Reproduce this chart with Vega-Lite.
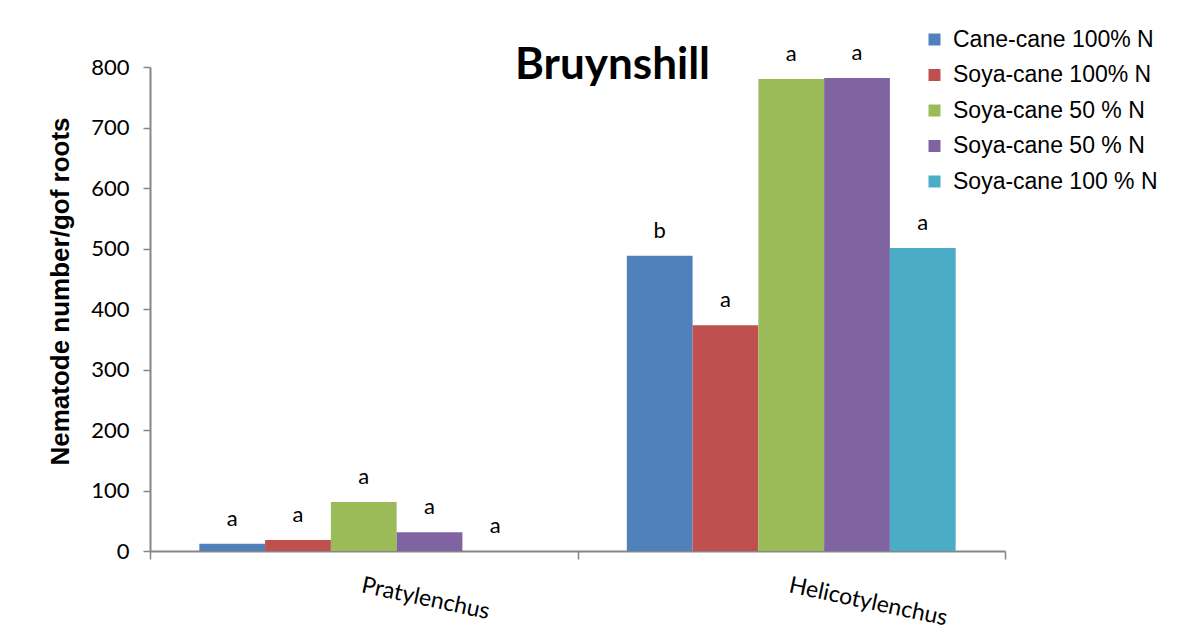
{
  "$schema": "https://vega.github.io/schema/vega-lite/v6.json",
  "width": 855,
  "height": 484,
  "autosize": {"type": "none"},
  "padding": {"left": 150, "top": 67, "right": 195, "bottom": 86},
  "background": "#ffffff",
  "title": {
    "text": "Bruynshill",
    "font": "Lato",
    "fontSize": 44,
    "fontWeight": "bold",
    "color": "#000000",
    "anchor": "middle",
    "dx": 35,
    "dy": 64
  },
  "config": {
    "view": {"stroke": null},
    "axis": {"grid": false}
  },
  "data": {
    "values": [
      {"nematode": "Pratylenchus", "treatment": "Cane-cane 100% N", "value": 12, "letter": "a"},
      {"nematode": "Pratylenchus", "treatment": "Soya-cane 100% N", "value": 18, "letter": "a"},
      {"nematode": "Pratylenchus", "treatment": "Soya-cane 50 % N", "value": 81, "letter": "a"},
      {"nematode": "Pratylenchus", "treatment": "Soya-cane  50 % N", "value": 31, "letter": "a"},
      {"nematode": "Pratylenchus", "treatment": "Soya-cane 100 % N", "value": 0, "letter": "a"},
      {"nematode": "Helicotylenchus", "treatment": "Cane-cane 100% N", "value": 488, "letter": "b"},
      {"nematode": "Helicotylenchus", "treatment": "Soya-cane 100% N", "value": 373, "letter": "a"},
      {"nematode": "Helicotylenchus", "treatment": "Soya-cane 50 % N", "value": 780, "letter": "a"},
      {"nematode": "Helicotylenchus", "treatment": "Soya-cane  50 % N", "value": 782, "letter": "a"},
      {"nematode": "Helicotylenchus", "treatment": "Soya-cane 100 % N", "value": 501, "letter": "a"}
    ]
  },
  "encoding": {
    "x": {
      "field": "nematode",
      "type": "nominal",
      "sort": ["Pratylenchus", "Helicotylenchus"],
      "scale": {"paddingInner": 0, "paddingOuter": 0},
      "axis": {
        "title": null,
        "tickBand": "extent",
        "labelAngle": 12,
        "labelAlign": "left",
        "labelBaseline": "top",
        "labelFont": "Lato",
        "labelFontSize": 23,
        "labelColor": "#000000",
        "labelPadding": 15,
        "tickSize": 8,
        "tickColor": "#868686",
        "tickWidth": 1.5,
        "domainColor": "#868686",
        "domainWidth": 2
      }
    },
    "xOffset": {
      "field": "treatment",
      "type": "nominal",
      "sort": ["Cane-cane 100% N", "Soya-cane 100% N", "Soya-cane 50 % N", "Soya-cane  50 % N", "Soya-cane 100 % N"],
      "scale": {"paddingInner": 0, "paddingOuter": 0.75}
    },
    "y": {
      "field": "value",
      "type": "quantitative",
      "scale": {"domain": [0, 800], "nice": false},
      "axis": {
        "title": "Nematode number/gof roots",
        "titleFont": "Liberation Sans",
        "titleFontSize": 26,
        "titleFontWeight": "bold",
        "titleColor": "#000000",
        "titlePadding": 17,
        "titleY": 224,
        "values": [0, 100, 200, 300, 400, 500, 600, 700, 800],
        "labelFont": "Lato",
        "labelFontSize": 22,
        "labelColor": "#000000",
        "labelPadding": 14,
        "tickSize": 7,
        "tickColor": "#868686",
        "tickWidth": 1.5,
        "domainColor": "#868686",
        "domainWidth": 2
      }
    }
  },
  "layer": [
    {
      "mark": {"type": "bar"},
      "encoding": {
        "color": {
          "field": "treatment",
          "type": "nominal",
          "sort": ["Cane-cane 100% N", "Soya-cane 100% N", "Soya-cane 50 % N", "Soya-cane  50 % N", "Soya-cane 100 % N"],
          "scale": {
            "domain": ["Cane-cane 100% N", "Soya-cane 100% N", "Soya-cane 50 % N", "Soya-cane  50 % N", "Soya-cane 100 % N"],
            "range": ["#4F81BD", "#C0504D", "#9BBB59", "#8064A2", "#4BACC6"]
          },
          "legend": {
            "title": null,
            "orient": "none",
            "legendX": 773,
            "legendY": -39,
            "padding": 0,
            "symbolType": "square",
            "symbolSize": 144,
            "symbolStrokeWidth": 0,
            "labelFont": "Liberation Sans",
            "labelFontSize": 23,
            "labelColor": "#000000",
            "labelLimit": 400,
            "labelOffset": 7,
            "rowPadding": 11.5
          }
        }
      }
    },
    {
      "mark": {"type": "text", "font": "Lato", "fontSize": 22, "baseline": "alphabetic", "dy": -18, "color": "#000000"},
      "encoding": {
        "text": {"field": "letter"}
      }
    }
  ]
}
